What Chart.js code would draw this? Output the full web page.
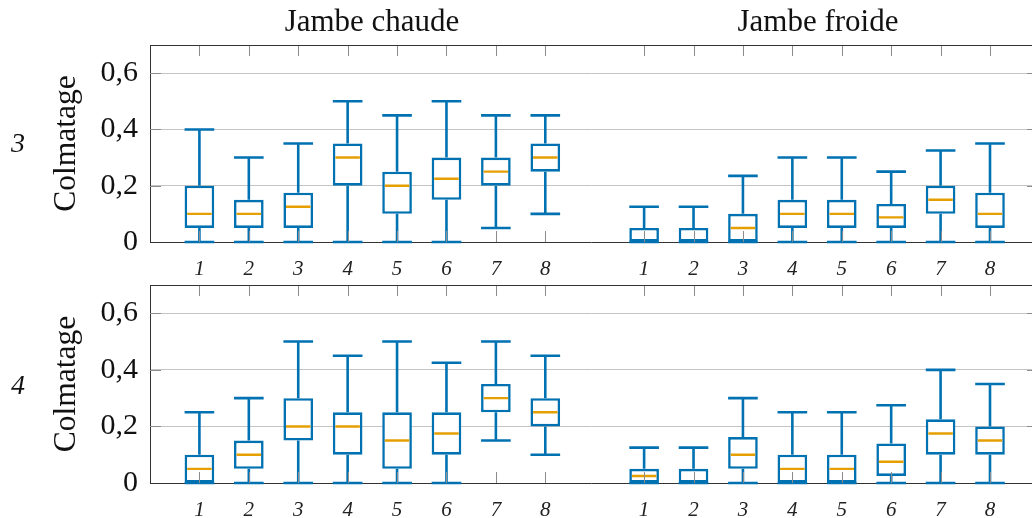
<!DOCTYPE html>
<html lang="fr">

<head>
    <meta charset="UTF-8">
    <title>Colmatage</title>
    <script src="https://cdn.jsdelivr.net/npm/chart.js"></script>
    <style>
        body {
            margin: 0;
            width: 1032px;
            height: 518px;
            overflow: hidden;
            background: #fff;
            font-family: 'Liberation Serif', 'DejaVu Serif', serif;
            position: relative;
        }

        .plot {
            position: absolute;
            left: 0;
            width: 1032px;
        }

        #plotTop {
            top: 0;
            height: 290px;
        }

        #plotBottom {
            top: 240px;
            height: 278px;
        }

        .col-title {
            position: absolute;
            top: 5px;
            font-size: 31px;
            line-height: 31px;
            color: #111;
            transform: translateX(-50%);
            white-space: nowrap;
        }

        .row-label {
            position: absolute;
            left: 18px;
            font-size: 28px;
            line-height: 28px;
            font-style: italic;
            color: #111;
            transform: translate(-50%, -50%);
        }
    </style>
</head>

<body>
    <div class="plot" id="plotTop"><canvas id="chartTop"></canvas></div>
    <div class="plot" id="plotBottom"><canvas id="chartBottom"></canvas></div>

    <div class="col-title" style="left:372px">Jambe chaude</div>
    <div class="col-title" style="left:818px">Jambe froide</div>
    <div class="row-label" style="top:143px">3</div>
    <div class="row-label" style="top:385px">4</div>

    <script>
        // x positions: 1..8 hot leg, gap, 1..8 cold leg
        const positions = [1, 2, 3, 4, 5, 6, 7, 8, 10, 11, 12, 13, 14, 15, 16, 17];
        const xLabels = ['1', '2', '3', '4', '5', '6', '7', '8', '1', '2', '3', '4', '5', '6', '7', '8'];
        const yTicks = [0, 0.2, 0.4, 0.6];
        const yTickLabels = ['0', '0,2', '0,4', '0,6'];

        // row 3
        const r3Min = [0, 0, 0, 0, 0, 0, 0.05, 0.1, 0, 0, 0, 0, 0, 0, 0, 0];
        const r3Q1 = [0.05, 0.05, 0.05, 0.2, 0.1, 0.15, 0.2, 0.25, 0, 0, 0, 0.05, 0.05, 0.05, 0.1, 0.05];
        const r3Med = [0.1, 0.1, 0.125, 0.3, 0.2, 0.225, 0.25, 0.3, 0, 0, 0.05, 0.1, 0.1, 0.0875, 0.15, 0.1];
        const r3Q3 = [0.2, 0.15, 0.175, 0.35, 0.25, 0.3, 0.3, 0.35, 0.05, 0.05, 0.1, 0.15, 0.15, 0.135, 0.2, 0.175];
        const r3Max = [0.4, 0.3, 0.35, 0.5, 0.45, 0.5, 0.45, 0.45, 0.125, 0.125, 0.235, 0.3, 0.3, 0.25, 0.325, 0.35];

        // row 4
        const r4Min = [0, 0, 0, 0, 0, 0, 0.15, 0.1, 0, 0, 0, 0, 0, 0, 0, 0];
        const r4Q1 = [0, 0.05, 0.15, 0.1, 0.05, 0.1, 0.25, 0.2, 0, 0, 0.05, 0, 0, 0.025, 0.1, 0.1];
        const r4Med = [0.05, 0.1, 0.2, 0.2, 0.15, 0.175, 0.3, 0.25, 0.025, 0, 0.1, 0.05, 0.05, 0.075, 0.175, 0.15];
        const r4Q3 = [0.1, 0.15, 0.3, 0.25, 0.25, 0.25, 0.35, 0.3, 0.05, 0.05, 0.1625, 0.1, 0.1, 0.14, 0.225, 0.2];
        const r4Max = [0.25, 0.3, 0.5, 0.45, 0.5, 0.425, 0.5, 0.45, 0.125, 0.125, 0.3, 0.25, 0.25, 0.275, 0.4, 0.35];

        const BLUE = '#0072B2';
        const ORANGE = '#E69F00';
        const LINE_W = 2.6;
        const FONT = "'Liberation Serif', 'DejaVu Serif', serif";

        // whiskers, medians and inward tick marks
        const boxPlugin = {
            id: 'boxExtras',
            afterDatasetsDraw(chart, args, opts) {
                const ctx = chart.ctx;
                const xs = chart.scales.x;
                const ys = chart.scales.y;
                const area = chart.chartArea;
                const bars = chart.getDatasetMeta(0).data;
                const s = opts.stats;

                ctx.save();
                ctx.lineCap = 'butt';
                bars.forEach((bar, i) => {
                    const x = bar.x;
                    const half = bar.width / 2;
                    const yMin = ys.getPixelForValue(s.min[i]);
                    const yMax = ys.getPixelForValue(s.max[i]);
                    const yQ1 = ys.getPixelForValue(s.q1[i]);
                    const yQ3 = ys.getPixelForValue(s.q3[i]);
                    const yMed = ys.getPixelForValue(s.med[i]);

                    ctx.strokeStyle = BLUE;
                    ctx.lineWidth = LINE_W;
                    ctx.beginPath();
                    ctx.moveTo(x, yQ3);
                    ctx.lineTo(x, yMax);
                    ctx.moveTo(x - half, yMax);
                    ctx.lineTo(x + half, yMax);
                    ctx.moveTo(x, yQ1);
                    ctx.lineTo(x, yMin);
                    ctx.moveTo(x - half, yMin);
                    ctx.lineTo(x + half, yMin);
                    ctx.stroke();

                    // median, kept inside the box border
                    ctx.save();
                    ctx.beginPath();
                    ctx.rect(x - half + LINE_W, yQ3 + LINE_W, bar.width - 2 * LINE_W, yQ1 - yQ3 - 2 * LINE_W);
                    ctx.clip();
                    ctx.strokeStyle = ORANGE;
                    ctx.lineWidth = 2.4;
                    ctx.beginPath();
                    ctx.moveTo(x - half, yMed);
                    ctx.lineTo(x + half, yMed);
                    ctx.stroke();
                    ctx.restore();
                });

                // tick marks pointing inwards
                ctx.strokeStyle = '#8c8c8c';
                ctx.lineWidth = 1;
                ctx.beginPath();
                xs.ticks.forEach((t, i) => {
                    const px = Math.round(xs.getPixelForTick(i)) + 0.5;
                    ctx.moveTo(px, area.top);
                    ctx.lineTo(px, area.top + 11);
                    ctx.moveTo(px, area.bottom);
                    ctx.lineTo(px, area.bottom - 11);
                });
                ys.ticks.forEach((t, i) => {
                    if (t.value === 0) return;
                    const py = Math.round(ys.getPixelForTick(i)) + 0.5;
                    ctx.moveTo(area.left, py);
                    ctx.lineTo(area.left + 11, py);
                    ctx.moveTo(area.right - 5, py);
                    ctx.lineTo(area.right, py);
                });
                ctx.stroke();

                // top frame line
                ctx.strokeStyle = '#333';
                ctx.beginPath();
                ctx.moveTo(area.left, Math.round(area.top) + 0.5);
                ctx.lineTo(area.right, Math.round(area.top) + 0.5);
                ctx.stroke();
                ctx.restore();
            }
        };

        function makeChart(canvasId, stats, padTop, xHeight) {
            const ctx = document.getElementById(canvasId).getContext('2d');
            return new Chart(ctx, {
                type: 'bar',
                data: {
                    datasets: [{
                        data: positions.map((x, i) => ({ x: x, y: [stats.q1[i], stats.q3[i]] })),
                        backgroundColor: '#fff',
                        borderColor: BLUE,
                        borderWidth: LINE_W,
                        borderSkipped: false,
                        barPercentage: 0.6,
                        categoryPercentage: 1
                    }]
                },
                options: {
                    responsive: true,
                    maintainAspectRatio: false,
                    animation: false,
                    layout: {
                        padding: { top: padTop, left: 0, right: 0, bottom: 0 }
                    },
                    plugins: {
                        legend: { display: false },
                        tooltip: { enabled: false },
                        boxExtras: { stats: stats }
                    },
                    scales: {
                        x: {
                            type: 'linear',
                            min: 0,
                            max: 17.85,
                            offset: false,
                            afterBuildTicks: scale => {
                                scale.ticks = positions.map(v => ({ value: v }));
                            },
                            afterFit: scale => {
                                scale.height = xHeight;
                            },
                            grid: { display: false },
                            border: { display: true, color: '#333', width: 1 },
                            ticks: {
                                autoSkip: false,
                                maxRotation: 0,
                                padding: 7,
                                color: '#222',
                                font: { family: FONT, size: 21, style: 'italic' },
                                callback: (v, i) => xLabels[i]
                            }
                        },
                        y: {
                            min: 0,
                            max: 0.7,
                            afterBuildTicks: scale => {
                                scale.ticks = yTicks.map(v => ({ value: v }));
                            },
                            afterFit: scale => {
                                scale.width = 150;
                            },
                            grid: {
                                drawTicks: false,
                                color: c => (c.tick && c.tick.value === 0) ? 'rgba(0,0,0,0)' : '#c4c4c4',
                                lineWidth: 1
                            },
                            border: { display: true, color: '#333', width: 1 },
                            ticks: {
                                padding: 12,
                                color: '#111',
                                font: { family: FONT, size: 30 },
                                callback: (v, i) => yTickLabels[i]
                            },
                            title: {
                                display: true,
                                text: 'Colmatage',
                                color: '#111',
                                font: { family: FONT, size: 31.5 },
                                padding: { top: 48, bottom: 0 }
                            }
                        }
                    }
                },
                plugins: [boxPlugin]
            });
        }

        document.addEventListener('DOMContentLoaded', function () {
            makeChart('chartTop', { min: r3Min, q1: r3Q1, med: r3Med, q3: r3Q3, max: r3Max }, 45, 48);
            makeChart('chartBottom', { min: r4Min, q1: r4Q1, med: r4Med, q3: r4Q3, max: r4Max }, 45, 35);
        });
    </script>
</body>

</html>
